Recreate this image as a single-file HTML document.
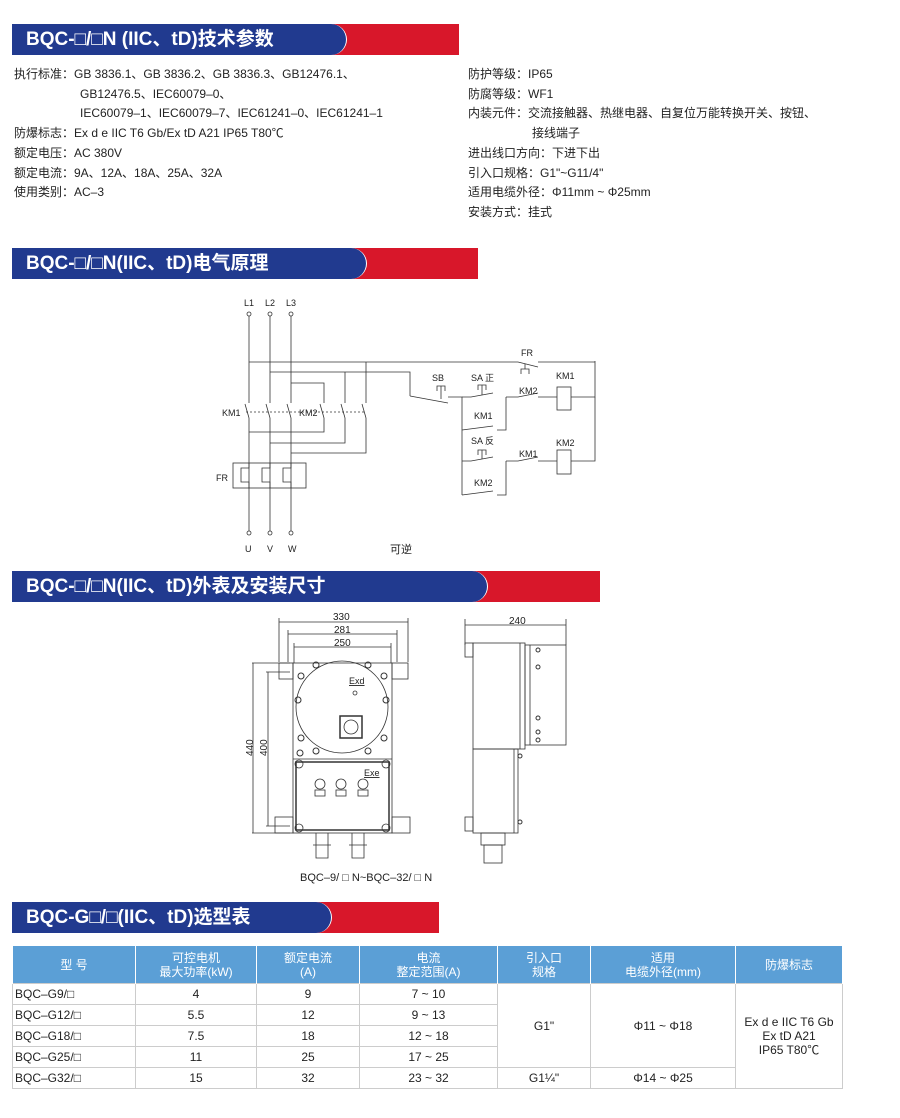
<!DOCTYPE html>
<html><head><meta charset="utf-8"><style>
*{margin:0;padding:0;box-sizing:border-box}
body{width:900px;height:1118px;background:#fff;position:relative;font-family:"Liberation Sans","Noto Sans CJK SC",sans-serif;color:#222;overflow:hidden}
.bar{position:absolute;left:12px;height:31px;background:#d8172a}
.bar .b{position:absolute;left:0;top:0;height:31px;background:#213a8f;border-radius:0 16px 16px 0/0 50% 50% 0;border-right:1.5px solid #fff;color:#fff;font-size:19px;font-weight:bold;line-height:31px;padding-left:14px;white-space:nowrap}
.t{position:absolute;font-size:12px;white-space:nowrap;line-height:14px}
table{position:absolute;left:12px;top:945px;width:831px;border-collapse:collapse;font-size:12px}
td{border:1px solid #ccc;text-align:center;height:21px;line-height:14px}
tr.h td{background:#5b9fd6;color:#fff;height:38px;border-color:#fff;border-bottom:none}
td.l{text-align:left;padding-left:2px}
</style></head><body>
<div class="bar" style="top:24px;width:447px"><div class="b" style="width:335px">BQC-□/□N (IIC、tD)技术参数</div></div>
<div class="bar" style="top:248px;width:466px"><div class="b" style="width:355px">BQC-□/□N(IIC、tD)电气原理</div></div>
<div class="bar" style="top:571px;width:588px"><div class="b" style="width:476px">BQC-□/□N(IIC、tD)外表及安装尺寸</div></div>
<div class="bar" style="top:902px;width:427px"><div class="b" style="width:320px">BQC-G□/□(IIC、tD)选型表</div></div>

<div class="t" style="left:14px;top:67px">执行标准：GB 3836.1、GB 3836.2、GB 3836.3、GB12476.1、</div>
<div class="t" style="left:80px;top:87px">GB12476.5、IEC60079–0、</div>
<div class="t" style="left:80px;top:106px">IEC60079–1、IEC60079–7、IEC61241–0、IEC61241–1</div>
<div class="t" style="left:14px;top:126px">防爆标志：Ex d e IIC T6 Gb/Ex tD A21 IP65 T80℃</div>
<div class="t" style="left:14px;top:146px">额定电压：AC 380V</div>
<div class="t" style="left:14px;top:166px">额定电流：9A、12A、18A、25A、32A</div>
<div class="t" style="left:14px;top:185px">使用类别：AC–3</div>

<div class="t" style="left:468px;top:67px">防护等级：IP65</div>
<div class="t" style="left:468px;top:87px">防腐等级：WF1</div>
<div class="t" style="left:468px;top:106px">内装元件：交流接触器、热继电器、自复位万能转换开关、按钮、</div>
<div class="t" style="left:532px;top:126px">接线端子</div>
<div class="t" style="left:468px;top:146px">进出线口方向：下进下出</div>
<div class="t" style="left:468px;top:166px">引入口规格：G1"~G11/4"</div>
<div class="t" style="left:468px;top:185px">适用电缆外径：Φ11mm ~ Φ25mm</div>
<div class="t" style="left:468px;top:205px">安装方式：挂式</div>

<svg style="position:absolute;left:0;top:0" width="900" height="1118" font-family="Liberation Sans, Noto Sans CJK SC, sans-serif" font-size="9" fill="none" stroke="#333" stroke-width="0.8">
<g fill="#222" stroke="none">
<text x="244" y="306">L1</text><text x="265" y="306">L2</text><text x="286" y="306">L3</text>
<text x="245" y="552">U</text><text x="267" y="552">V</text><text x="288" y="552">W</text>
<text x="222" y="416">KM1</text><text x="299" y="416">KM2</text>
<text x="216" y="481">FR</text>
<text x="432" y="381">SB</text><text x="471" y="381">SA 正</text>
<text x="521" y="356">FR</text><text x="556" y="379">KM1</text>
<text x="519" y="394">KM2</text><text x="474" y="419">KM1</text>
<text x="471" y="444">SA 反</text><text x="556" y="446">KM2</text>
<text x="519" y="457">KM1</text><text x="474" y="486">KM2</text>
<text x="390" y="553" font-size="11">可逆</text>
</g>
<!-- power lines -->
<circle cx="249" cy="314" r="2"/><circle cx="270" cy="314" r="2"/><circle cx="291" cy="314" r="2"/>
<circle cx="249" cy="533" r="2"/><circle cx="270" cy="533" r="2"/><circle cx="291" cy="533" r="2"/>
<path d="M249 316V403M249 418V531M270 316V403M270 418V531M291 316V403M291 418V531"/>
<path d="M245 404L249 418M266 404L270 418M287 404L291 418"/>
<path d="M249 362H518M270 372H410V396M291 383H324V403M324 418V432H249M345 372V403M345 418V443H270M366 362V403M366 418V453H291"/>
<path d="M320 404L324 418M341 404L345 418M362 404L366 418"/>
<path d="M246 412H364" stroke-dasharray="2,2"/>
<rect x="233" y="463" width="73" height="25"/>
<path d="M249 463V468H241V482H249V488M270 463V468H262V482H270V488M291 463V468H283V482H291V488"/>
<!-- control -->
<path d="M410 396L448 403M448 397H462V495"/>
<path d="M437 391V386H445V391M441 386V399"/>
<path d="M462 397H471L493 393M506 397V430H497M462 430L493 426"/>
<path d="M478 390V385H486V390M482 385V395"/>
<path d="M506 397H518L538 393M538 397H557M571 397H595V361M518 362L538 367M538 362H595"/>
<path d="M521 374V369H529V374M525 369V364"/>
<rect x="557" y="387" width="14" height="23"/>
<path d="M462 461H471L493 457M506 461V495H497M462 495L493 491"/>
<path d="M478 455V450H486V455M482 450V459"/>
<path d="M506 461H518L538 457M538 461H557M571 461H595V397"/>
<rect x="557" y="450" width="14" height="24"/>
</svg>

<svg style="position:absolute;left:0;top:0" width="900" height="1118" font-family="Liberation Sans, sans-serif" font-size="10" fill="none" stroke="#333" stroke-width="0.8">
<g fill="#222" stroke="none">
<text x="333" y="620">330</text><text x="334" y="633">281</text><text x="334" y="646">250</text>
<text x="509" y="624">240</text>
<text x="253" y="756" transform="rotate(-90 253 756)">440</text>
<text x="267" y="756" transform="rotate(-90 267 756)">400</text>
<text x="349" y="684" font-size="9" text-decoration="underline">Exd</text>
<text x="364" y="776" font-size="9" text-decoration="underline">Exe</text>
<text x="300" y="881" font-size="11">BQC–9/ □ N~BQC–32/ □ N</text>
</g>
<path d="M279 618V662M408 618V662M288 630V662M397 630V662M294 643V663M391 643V663"/>
<path d="M279 622H408M288 634H397M294 647H391"/>
<path d="M252 663H290M252 833H290M266 672H290M266 826H290M253 663V833M268 672V826"/>
<rect x="293" y="663" width="99" height="170"/>
<path d="M293 759H392"/>
<rect x="279" y="663" width="14" height="16"/><rect x="392" y="663" width="16" height="16"/>
<rect x="275" y="817" width="18" height="16"/><rect x="392" y="817" width="18" height="16"/>
<circle cx="342" cy="707" r="46"/>
<circle cx="355" cy="693" r="2"/>
<rect x="340" y="716" width="22" height="22" stroke-width="1.5"/>
<circle cx="351" cy="727" r="7"/>
<g stroke-width="1">
<circle cx="301" cy="676" r="3"/><circle cx="384" cy="676" r="3"/><circle cx="301" cy="738" r="3"/><circle cx="384" cy="738" r="3"/>
<circle cx="316" cy="665" r="3"/><circle cx="368" cy="665" r="3"/><circle cx="316" cy="751" r="3"/><circle cx="368" cy="751" r="3"/>
<circle cx="298" cy="700" r="3"/><circle cx="386" cy="700" r="3"/><circle cx="300" cy="753" r="3"/>
</g>
<rect x="296" y="762" width="93" height="68" stroke-width="1.5"/>
<circle cx="299" cy="764" r="4"/><circle cx="386" cy="764" r="4"/><circle cx="299" cy="828" r="4"/><circle cx="386" cy="828" r="4"/>
<circle cx="320" cy="784" r="5"/><circle cx="341" cy="784" r="5"/><circle cx="363" cy="784" r="5"/>
<rect x="315" y="790" width="10" height="6"/><rect x="336" y="790" width="10" height="6"/><rect x="358" y="790" width="10" height="6"/>
<path d="M316 833V858H328V833M352 833V858H364V833M313 845H331M349 845H367"/>
<!-- side -->
<path d="M465 619V645M566 619V645M465 625H566"/>
<rect x="473" y="643" width="52" height="106"/>
<rect x="525" y="645" width="41" height="100"/>
<path d="M520 643V749M530 645V745"/>
<rect x="473" y="749" width="45" height="84"/>
<path d="M514 749V833"/>
<rect x="465" y="643" width="8" height="14"/><rect x="465" y="817" width="8" height="14"/>
<rect x="481" y="833" width="24" height="12"/><rect x="484" y="845" width="18" height="18"/>
<g stroke-width="1"><circle cx="538" cy="650" r="2"/><circle cx="538" cy="667" r="2"/><circle cx="538" cy="718" r="2"/><circle cx="538" cy="732" r="2"/><circle cx="538" cy="740" r="2"/><circle cx="520" cy="756" r="2"/><circle cx="520" cy="822" r="2"/></g>
</svg>

<table>
<tr class="h"><td style="width:123px">型 号</td><td style="width:121px">可控电机<br>最大功率(kW)</td><td style="width:103px">额定电流<br>(A)</td><td style="width:138px">电流<br>整定范围(A)</td><td style="width:93px">引入口<br>规格</td><td style="width:145px">适用<br>电缆外径(mm)</td><td>防爆标志</td></tr>
<tr><td class="l">BQC–G9/□</td><td>4</td><td>9</td><td>7 ~ 10</td><td rowspan="4">G1"</td><td rowspan="4">Φ11 ~ Φ18</td><td rowspan="5">Ex d e IIC T6 Gb<br>Ex tD A21<br>IP65 T80℃</td></tr>
<tr><td class="l">BQC–G12/□</td><td>5.5</td><td>12</td><td>9 ~ 13</td></tr>
<tr><td class="l">BQC–G18/□</td><td>7.5</td><td>18</td><td>12 ~ 18</td></tr>
<tr><td class="l">BQC–G25/□</td><td>11</td><td>25</td><td>17 ~ 25</td></tr>
<tr><td class="l">BQC–G32/□</td><td>15</td><td>32</td><td>23 ~ 32</td><td>G1¼"</td><td>Φ14 ~ Φ25</td></tr>
</table>
</body></html>
